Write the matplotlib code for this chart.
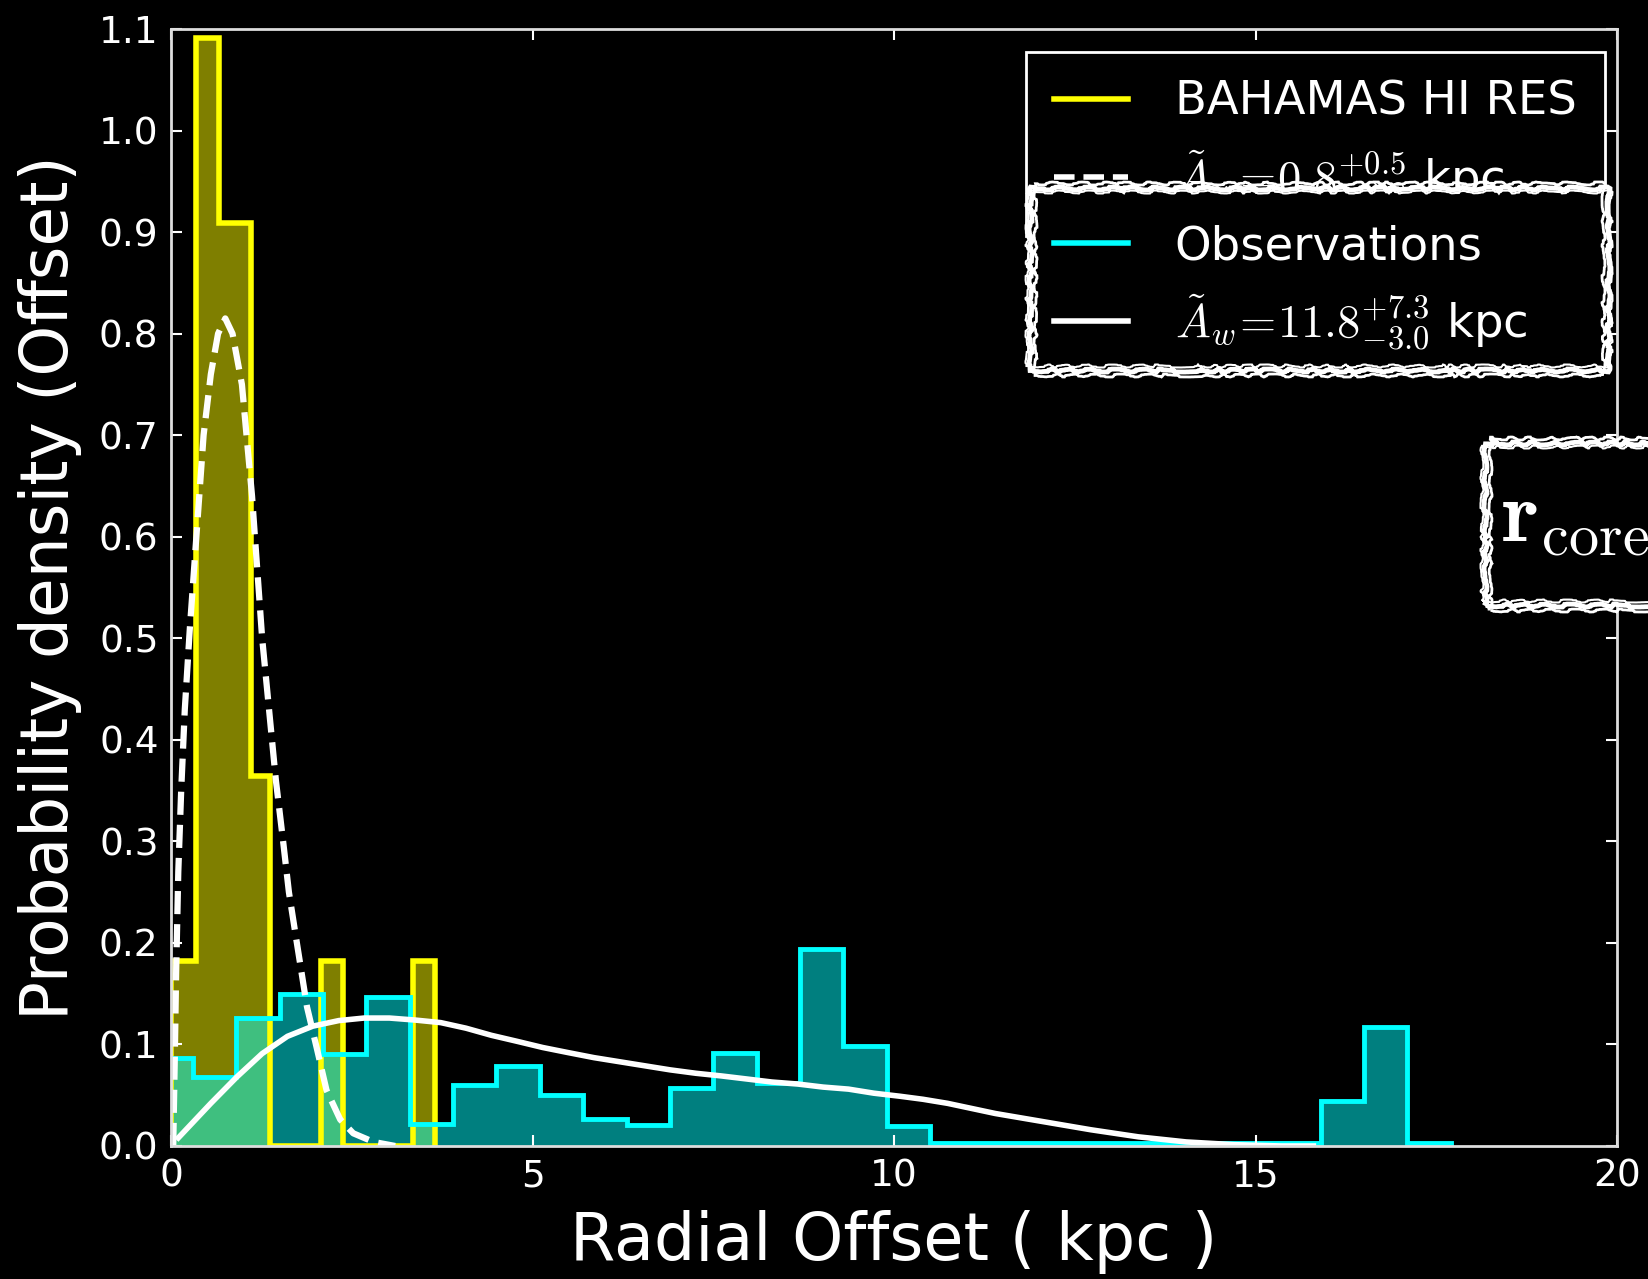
"""Radial offset histograms: BAHAMAS HI RES against observations, dark slide style."""
import matplotlib
matplotlib.use("Agg")
import matplotlib.pyplot as plt
from matplotlib.lines import Line2D
from matplotlib.patches import Rectangle

plt.rcParams["mathtext.fontset"] = "cm"
plt.rcParams["font.family"] = "DejaVu Sans"

# BAHAMAS HI RES histogram (probability density), bin edges in kpc
sim_edges = [0.0, 0.34, 0.66, 1.10, 1.37, 2.08, 2.38, 3.35, 3.65]
sim_density = [0.182, 1.091, 0.909, 0.364, 0.0, 0.182, 0.0, 0.182]

# Observations histogram
obs_edges = [-0.3, 0.3, 0.9, 1.5, 2.1, 2.7, 3.3, 3.9, 4.5, 5.1, 5.7, 6.3,
             6.9, 7.5, 8.1, 8.7, 9.3, 9.9, 10.5, 15.9, 16.5, 17.1, 17.7]
obs_density = [0.087, 0.068, 0.126, 0.150, 0.091, 0.147, 0.022, 0.060,
               0.079, 0.050, 0.027, 0.021, 0.057, 0.092, 0.062, 0.194,
               0.098, 0.020, 0.003, 0.044, 0.117, 0.003]

# Fitted curve, simulation (dashed)
sim_fit_x = [0.03, 0.05, 0.07, 0.10, 0.14, 0.19, 0.26, 0.35, 0.45, 0.55,
             0.65, 0.75, 0.85, 0.98, 1.12, 1.26, 1.45, 1.55, 1.63, 1.74,
             1.88, 2.02, 2.15, 2.34, 2.52, 2.80, 3.10]
sim_fit_y = [0.0, 0.08, 0.17, 0.27, 0.35, 0.43, 0.51, 0.60, 0.70, 0.76,
             0.80, 0.815, 0.80, 0.75, 0.64, 0.50, 0.36, 0.30, 0.25, 0.20,
             0.137, 0.095, 0.055, 0.026, 0.0125, 0.004, 0.0]

# Fitted curve, observations (solid)
obs_fit_x = [0.10, 0.55, 0.91, 1.26, 1.61, 1.96, 2.32, 2.67, 3.02, 3.38,
             3.73, 4.08, 4.43, 4.79, 5.14, 5.49, 5.85, 6.20, 6.55, 6.90,
             7.26, 7.61, 7.96, 8.31, 8.67, 9.02, 9.37, 9.72, 10.08, 10.40,
             10.74, 11.07, 11.40, 12.06, 12.72, 13.38, 14.04, 14.70, 15.36,
             15.80]
obs_fit_y = [0.008, 0.042, 0.068, 0.091, 0.108, 0.118, 0.1235, 0.126, 0.126,
             0.124, 0.1215, 0.116, 0.109, 0.103, 0.097, 0.092, 0.087, 0.083,
             0.079, 0.075, 0.0716, 0.069, 0.066, 0.063, 0.061, 0.058, 0.056,
             0.052, 0.049, 0.046, 0.042, 0.037, 0.032, 0.024, 0.016, 0.009,
             0.004, 0.0013, 0.0, 0.0]

x_ticks = [0, 5, 10, 15, 20]
y_ticks = [0.0, 0.1, 0.2, 0.3, 0.4, 0.5, 0.6, 0.7, 0.8, 0.9, 1.0, 1.1]

sim_label = "BAHAMAS HI RES"
sim_fit_label = r"$\tilde{A}_w\!=\!0.8^{+0.5}_{-0.8}$ kpc"
obs_label = "Observations"
obs_fit_label = r"$\tilde{A}_w\!=\!11.8^{+7.3}_{-3.0}$ kpc"


def sketchy_box(fig, x0, y0, w, h):
    """Hand drawn looking black box in figure coordinates."""
    back = Rectangle((x0, y0), w, h, transform=fig.transFigure,
                     facecolor="black", edgecolor="none", zorder=3)
    fig.patches.append(back)
    strokes = [(3.5, 0.0, 0.0), (2.0, 0.003, -0.004), (1.5, -0.002, 0.003)]
    for lw, dx, dy in strokes:
        rect = Rectangle(
            (x0 + dx, y0 + dy), w - 2 * dx, h - 2 * dy,
            transform=fig.transFigure, facecolor="none",
            edgecolor="white", linewidth=lw, zorder=3,
        )
        rect.set_sketch_params(scale=1.5, length=90, randomness=25)
        fig.patches.append(rect)


def plot():
    fig = plt.figure(figsize=(16.48, 12.79), dpi=100)
    fig.patch.set_facecolor("black")
    ax = fig.add_axes([0.1038, 0.104, 0.8774, 0.8733])
    ax.set_facecolor("black")

    # Histogram fills first, outlines on top.
    ax.stairs(sim_density, sim_edges, fill=True, color="yellow", alpha=0.5,
              linewidth=0)
    ax.stairs(obs_density, obs_edges, fill=True, color="cyan", alpha=0.5,
              linewidth=0)
    ax.stairs(sim_density, sim_edges, fill=False, color="yellow", linewidth=4)
    ax.stairs(obs_density, obs_edges, fill=False, color="cyan", linewidth=3.5)

    ax.plot(sim_fit_x, sim_fit_y, color="white", linestyle="--", linewidth=4.5)
    ax.plot(obs_fit_x, obs_fit_y, color="white", linewidth=4)

    ax.set_xlim(0, 20)
    ax.set_ylim(0, 1.1)
    ax.set_xticks(x_ticks)
    ax.set_yticks(y_ticks)
    ax.set_yticklabels([f"{v:.1f}" for v in y_ticks])
    ax.tick_params(direction="in", top=True, right=True, length=8, width=1.5,
                   colors="white", labelsize=27, pad=9)
    for spine in ax.spines.values():
        spine.set_color("#dddddd")
        spine.set_linewidth(2)

    ax.set_xlabel("Radial Offset ( kpc )", fontsize=47, color="white",
                  labelpad=11)
    ax.set_ylabel("Probability density (Offset)", fontsize=46.5, color="white",
                  labelpad=12)

    # Legend for the simulation.
    sim_handles = [
        Line2D([], [], color="yellow", linewidth=4),
        Line2D([], [], color="white", linestyle="--", linewidth=4),
    ]
    leg = ax.legend(
        sim_handles, [sim_label, sim_fit_label],
        loc="upper left", bbox_to_anchor=(0.6225, 0.9593),
        bbox_transform=fig.transFigure, borderaxespad=0, fontsize=33.5,
        handlelength=1.6, handletextpad=1.0, borderpad=0.6, labelspacing=0.5,
        fancybox=False, facecolor="black", edgecolor="white", framealpha=1,
        labelcolor="white",
    )
    leg.get_frame().set_linewidth(2)

    # Pasted on box with the observation legend.
    sketchy_box(fig, 0.625, 0.7107, 0.3507, 0.1423)
    obs_handles = [
        Line2D([], [], color="cyan", linewidth=4),
        Line2D([], [], color="white", linewidth=4),
    ]
    fig.legend(
        obs_handles, [obs_label, obs_fit_label],
        loc="upper left", bbox_to_anchor=(0.6225, 0.8465), borderaxespad=0,
        fontsize=33.5, handlelength=1.6, handletextpad=1.0, borderpad=0.6,
        labelspacing=0.5, frameon=False, labelcolor="white",
    )

    # r_core box, running off the right edge.
    sketchy_box(fig, 0.901, 0.527, 0.12, 0.1267)
    fig.text(0.911, 0.577, r"$\mathbf{r}_{\rm core}$", fontsize=62,
             color="white", va="baseline", zorder=4)

    fig.savefig("out.png", dpi=100, facecolor="black")


if __name__ == "__main__":
    plot()
